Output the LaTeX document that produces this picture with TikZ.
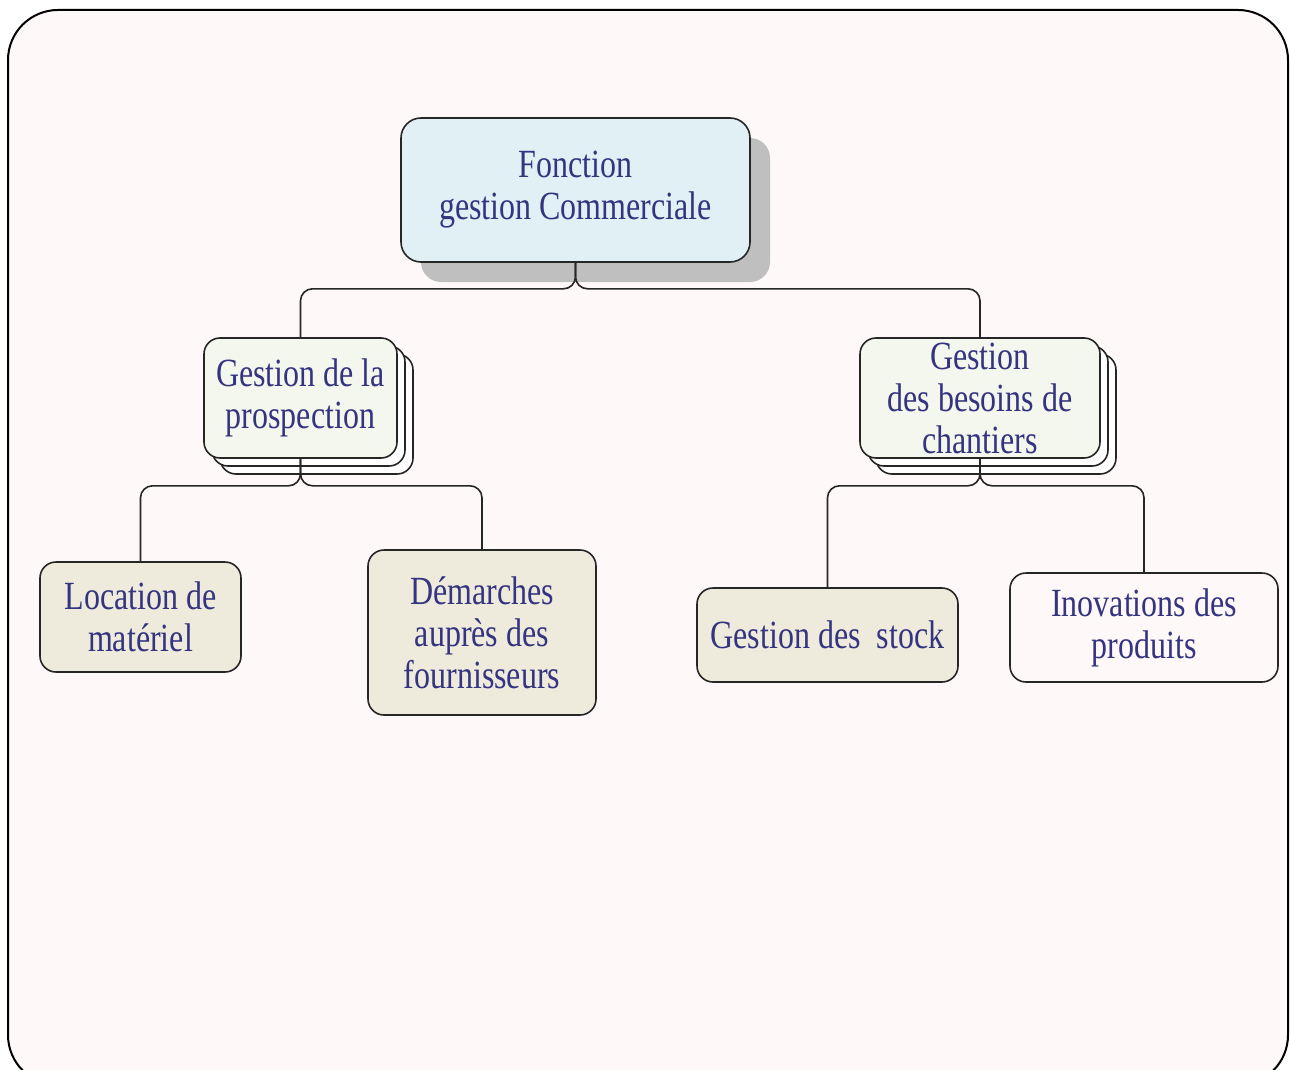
\documentclass[tikz,border=0pt]{standalone}
\usepackage{fontspec}
\setmainfont{Liberation Serif}[FakeStretch=0.8]
\usepackage{tikz}
\usetikzlibrary{shadows}
\usetikzlibrary{positioning}
\definecolor{framebg}{RGB}{255,248,248}
\definecolor{rootfill}{RGB}{224,240,244}
\definecolor{subfill}{RGB}{243,247,237}
\definecolor{leaffill}{RGB}{238,235,221}
\definecolor{txtblue}{RGB}{52,52,128}

\begin{document}
\begin{tikzpicture}[x=0.5pt,y=-0.5pt,
box/.style={draw=black!85,line width=0.8pt,rounded corners=8pt,align=center,
    text=txtblue,font=\fontsize{20}{21}\selectfont,inner sep=0pt},
rootbox/.style={box,fill=rootfill,rounded corners=10pt,
    drop shadow={shadow xshift=10pt,shadow yshift=-10pt,fill=black!25,opacity=1}},
subbox/.style={box,fill=subfill,
    double copy shadow={shadow xshift=4pt,shadow yshift=-4pt,fill=white,draw=black!85,line width=0.8pt}},
leafbox/.style={box,fill=leaffill},
link/.style={draw=black!85,line width=0.8pt,rounded corners=6pt}
]
\useasboundingbox (0,0) rectangle (1290,1070);
\begin{scope}
\clip (0,0) rectangle (1290,1070);
\draw[line width=1pt,fill=framebg,rounded corners=25pt] (8,10) rectangle (1288,1085);
\end{scope}

\node[rootbox,minimum width=174.5pt,minimum height=72pt] (root) at (575.5,190)
    {Fonction\\gestion Commerciale};
\node[subbox,minimum width=96.5pt,minimum height=60pt] (prosp) at (300.5,398)
    {Gestion de la\\prospection};
\node[subbox,minimum width=120pt,minimum height=60pt] (besoins) at (980,398)
    {Gestion\\des besoins de\\chantiers};
\node[leafbox,minimum width=100.5pt,minimum height=55pt] (loc) at (140.5,617)
    {Location de\\matériel};
\node[leafbox,minimum width=114pt,minimum height=82.5pt] (dem) at (482,632.5)
    {Démarches\\auprès des\\fournisseurs};
\node[leafbox,minimum width=130.5pt,minimum height=47pt] (stock) at (827.5,635)
    {Gestion des~ stock};
\node[box,fill=framebg,minimum width=134pt,minimum height=54.5pt] (inov) at (1144,627.5)
    {Inovations des\\produits};

\draw[link] (root.south) -- ++(0,26) -| (prosp.north);
\draw[link] (root.south) -- ++(0,26) -| (besoins.north);
\draw[link] (prosp.south) -- ++(0,27) -| (loc.north);
\draw[link] (prosp.south) -- ++(0,27) -| (dem.north);
\draw[link] (besoins.south) -- ++(0,27) -| (stock.north);
\draw[link] (besoins.south) -- ++(0,27) -| (inov.north);
\end{tikzpicture}
\end{document}
